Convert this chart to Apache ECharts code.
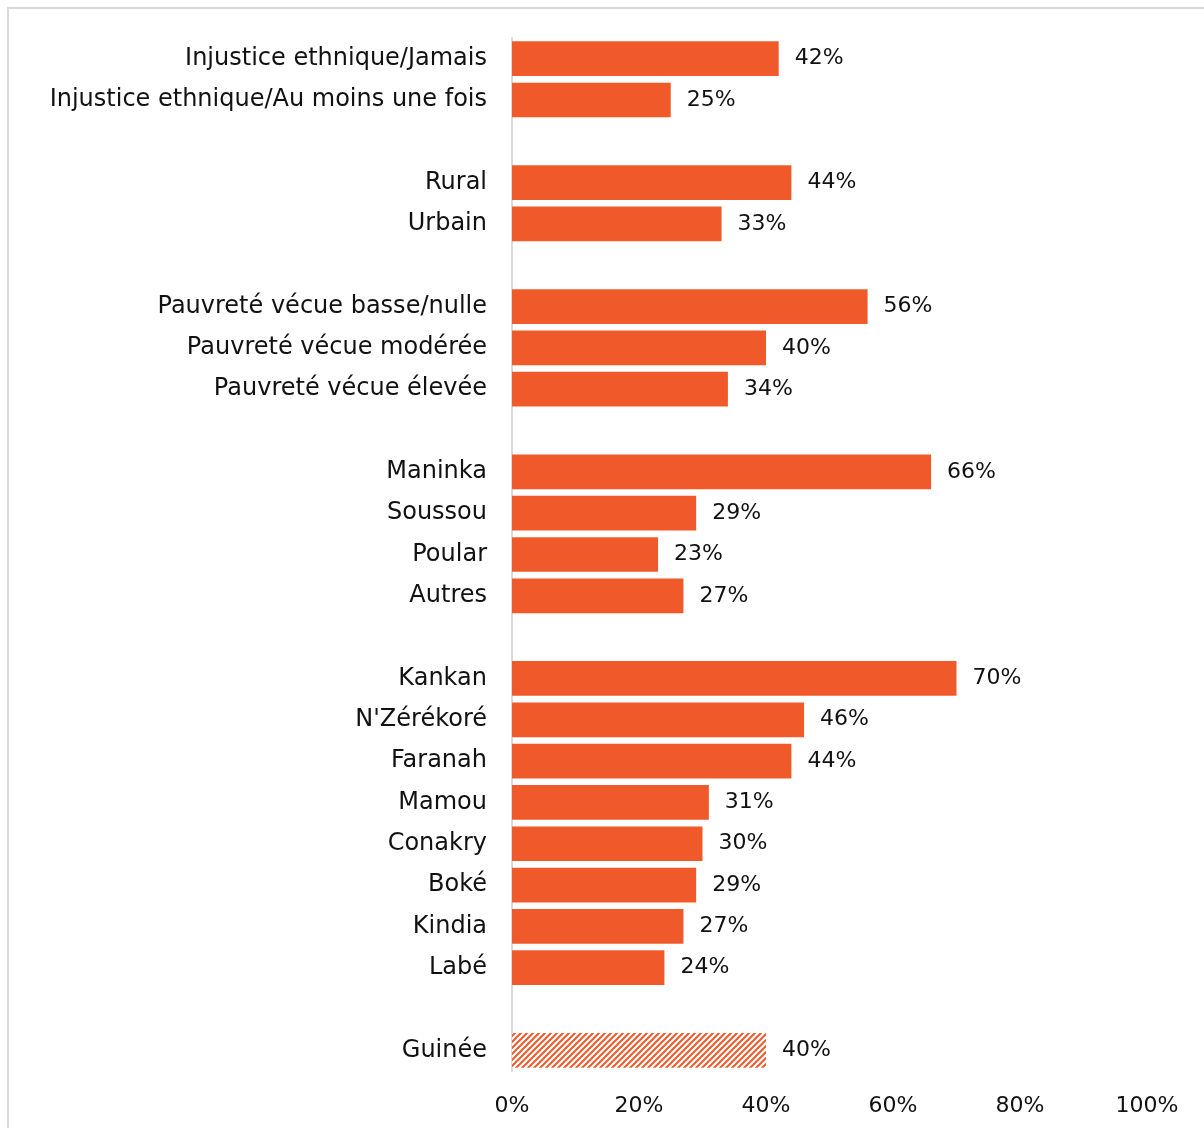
<!DOCTYPE html>
<html><head><meta charset="utf-8">
<script src="https://cdn.jsdelivr.net/npm/echarts@6/dist/echarts.min.js"></script>
<style>html,body{margin:0;padding:0;background:#fff}#c{width:1204px;height:1128px}</style>
</head><body><div id="c"></div>
<script>
const categories = ["Injustice ethnique/Jamais","Injustice ethnique/Au moins une fois","",
"Rural","Urbain","",
"Pauvreté vécue basse/nulle","Pauvreté vécue modérée","Pauvreté vécue élevée","",
"Maninka","Soussou","Poular","Autres","",
"Kankan","N'Zérékoré","Faranah","Mamou","Conakry","Boké","Kindia","Labé","",
"Guinée"];
const values = [42,25,null,44,33,null,56,40,34,null,66,29,23,27,null,70,46,44,31,30,29,27,24,null,40];
const hatchedCategory = "Guinée";

const ORANGE = '#F05A2A';
const FONT = '"DejaVu Sans", sans-serif';
function hatch(){
  const c = document.createElement('canvas');
  c.width = 6; c.height = 6;
  const g = c.getContext('2d');
  g.fillStyle = '#fff'; g.fillRect(0,0,6,6);
  g.strokeStyle = ORANGE; g.lineWidth = 2;
  g.beginPath();
  g.moveTo(-1,7); g.lineTo(7,-1);
  g.moveTo(-4,4); g.lineTo(4,-4);
  g.moveTo(2,10); g.lineTo(10,2);
  g.stroke();
  return c;
}
const pattern = {image: hatch(), repeat: 'repeat'};
const data = values.map((v,i)=>{
  if (v === null) return '-';
  if (categories[i] === hatchedCategory) return {value: v, itemStyle:{color: pattern}};
  return v;
});
const chart = echarts.init(document.getElementById('c'), null, {renderer:'canvas'});
chart.setOption({
  animation:false,
  textStyle:{fontFamily:FONT},
  grid:{left:512, right:57, top:38, bottom:57, containLabel:false},
  xAxis:{type:'value', min:0, max:100, interval:20,
    axisLine:{show:false}, axisTick:{show:false}, splitLine:{show:false},
    axisLabel:{formatter:'{value}%', fontSize:22, color:'#111', margin:24, fontFamily:FONT}},
  yAxis:{type:'category', data:categories, inverse:true,
    axisLine:{show:true, lineStyle:{color:'#d9d9d9', width:2}}, axisTick:{show:false},
    axisLabel:{fontSize:24, color:'#111', margin:25, fontFamily:FONT}},
  series:[{type:'bar', data:data, barCategoryGap:'16%', itemStyle:{color:ORANGE},
    label:{show:true, position:'right', distance:16, formatter:'{c}%', fontSize:22, color:'#111', fontFamily:FONT}}],
  graphic:[{type:'rect', shape:{x:8, y:8, width:1400, height:1400}, style:{fill:null, stroke:'#d9d9d9', lineWidth:2}, silent:true}]
});
</script></body></html>
